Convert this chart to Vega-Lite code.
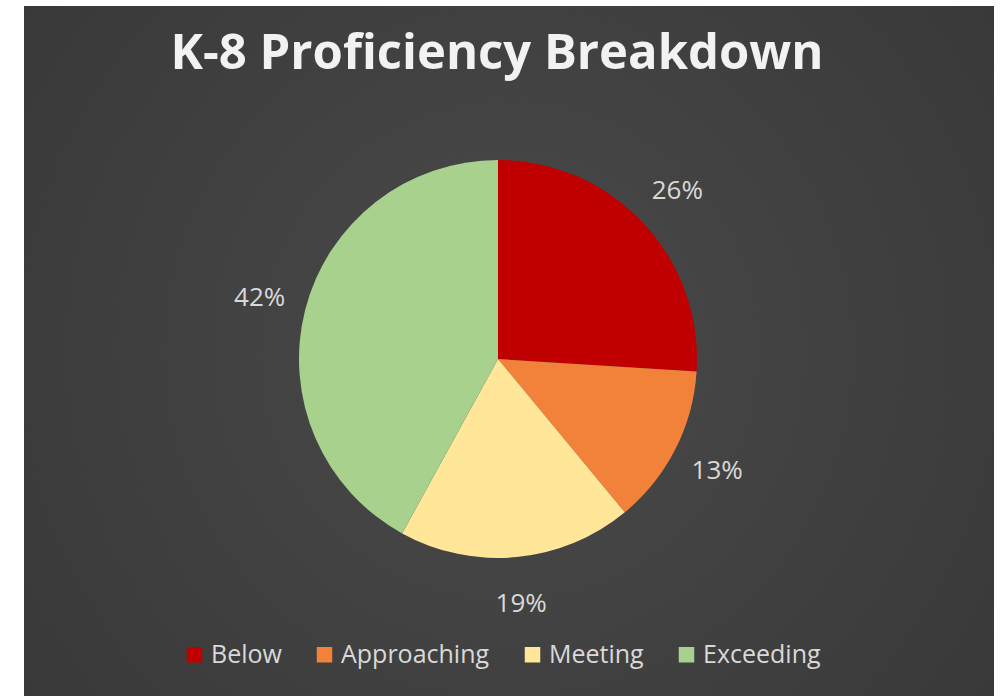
{
  "$schema": "https://vega.github.io/schema/vega-lite/v6.json",
  "autosize": {"type": "fit", "contains": "padding"},
  "width": 1002,
  "height": 696,
  "padding": {"left": 24, "top": 6, "right": 8, "bottom": 0},
  "background": "#ffffff",
  "view": {
    "stroke": null,
    "fill": {"gradient": "radial", "x1": 0.5, "y1": 0.5, "r1": 0, "x2": 0.5, "y2": 0.5, "r2": 0.75,
      "stops": [{"offset": 0, "color": "#4a4a4a"}, {"offset": 1, "color": "#353535"}]}
  },
  "title": {
    "text": "K-8 Proficiency Breakdown",
    "font": "Open Sans",
    "fontSize": 49,
    "fontWeight": "bold",
    "color": "#f2f2f2",
    "anchor": "middle",
    "baseline": "middle",
    "offset": -97,
    "dx": -12
  },
  "data": {
    "values": [
      {"level": "Below", "share": 0.26, "idx": 1},
      {"level": "Approaching", "share": 0.13, "idx": 2},
      {"level": "Meeting", "share": 0.19, "idx": 3},
      {"level": "Exceeding", "share": 0.42, "idx": 4}
    ]
  },
  "encoding": {
    "theta": {"field": "share", "type": "quantitative", "stack": true},
    "order": {"field": "idx", "type": "quantitative"},
    "color": {
      "field": "level",
      "type": "nominal",
      "sort": ["Below", "Approaching", "Meeting", "Exceeding"],
      "scale": {"domain": ["Below", "Approaching", "Meeting", "Exceeding"], "range": ["#c00000", "#f2823a", "#ffe699", "#a9d18e"]},
      "legend": {
        "title": null,
        "orient": "none",
        "legendX": 158,
        "legendY": 636,
        "direction": "horizontal",
        "symbolType": "square",
        "symbolSize": 240,
        "symbolStrokeWidth": 0,
        "symbolOpacity": 1,
        "labelFont": "Open Sans",
        "labelFontSize": 25,
        "labelColor": "#d9d9d9",
        "labelOffset": 4,
        "columnPadding": 30,
        "labelLimit": 300
      }
    }
  },
  "layer": [
    {
      "mark": {"type": "arc", "outerRadius": 199, "xOffset": -11, "yOffset": 8}
    },
    {
      "mark": {"type": "text", "radius": 246, "xOffset": -11, "yOffset": 8, "font": "Open Sans", "fontSize": 26, "fill": "#d9d9d9"},
      "encoding": {
        "text": {"field": "share", "type": "quantitative", "format": ".0%"},
        "color": {"value": "#d9d9d9"}
      }
    }
  ]
}
